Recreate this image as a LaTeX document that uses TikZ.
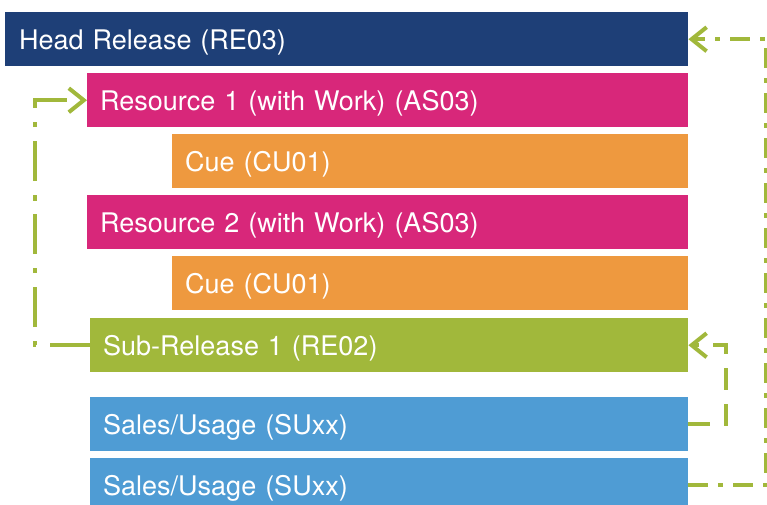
\documentclass[tikz,border=0pt]{standalone}
\usepackage{fontspec}
\setmainfont{TeX Gyre Heros}
\usetikzlibrary{arrows.meta}
\definecolor{relnavy}{HTML}{1E3F77}
\definecolor{resmagenta}{HTML}{D8277A}
\definecolor{cueorange}{HTML}{EE993F}
\definecolor{subgreen}{HTML}{A1B83B}
\definecolor{salesblue}{HTML}{4F9CD4}
\begin{document}
\begin{tikzpicture}[x=1pt,y=-1pt,
	bar_node/.style={anchor=north west,inner xsep=13pt,inner ysep=0pt,minimum height=54pt,text height=20pt,text depth=0pt,align=left,text=white,font=\fontsize{27}{30}\selectfont},
	head_node/.style={bar_node,fill=relnavy,inner xsep=14pt,text width=655pt},
	res_node/.style={bar_node,fill=resmagenta,text width=575pt},
	cue_node/.style={bar_node,fill=cueorange,text width=490pt},
	sub_node/.style={bar_node,fill=subgreen,text width=572pt},
	sales_node/.style={bar_node,fill=salesblue,text width=572pt},
	link/.style={draw=subgreen,line width=4pt,-{Straight Barb[length=15pt,width=24pt]}}]
		
		\useasboundingbox (0,0) rectangle (767,504);
		
		\node[head_node] (head) at (5,12) {Head Release (RE03)};
		\node[res_node] (res1) at (87,73) {Resource 1 (with Work) (AS03)};
		\node[cue_node] (cue1) at (172,134) {Cue (CU01)};
		\node[res_node] (res2) at (87,195) {Resource 2 (with Work) (AS03)};
		\node[cue_node] (cue2) at (172,256) {Cue (CU01)};
		\node[sub_node] (sub) at (90,318) {Sub-Release 1 (RE02)};
		\node[sales_node] (sales1) at (90,397) {Sales/Usage (SUxx)};
		\node[sales_node] (sales2) at (90,458) {Sales/Usage (SUxx)};
		
		\coordinate (outer) at (766,250);
		\coordinate (inner) at (726,380);
		\coordinate (back) at (35,200);
		
		\draw[link,dash pattern=on 20pt off 10pt on 5pt off 10pt] (sales2.east) -| (outer) |- (head.east);
		\draw[link,dash pattern=on 22pt off 14pt] (sales1.east) -| (inner) |- (sub.east);
		\draw[link,dash pattern=on 40pt off 14pt on 5pt off 14pt] (sub.west) -| (back) |- (res1.west);
		\end{tikzpicture}
\end{document}
